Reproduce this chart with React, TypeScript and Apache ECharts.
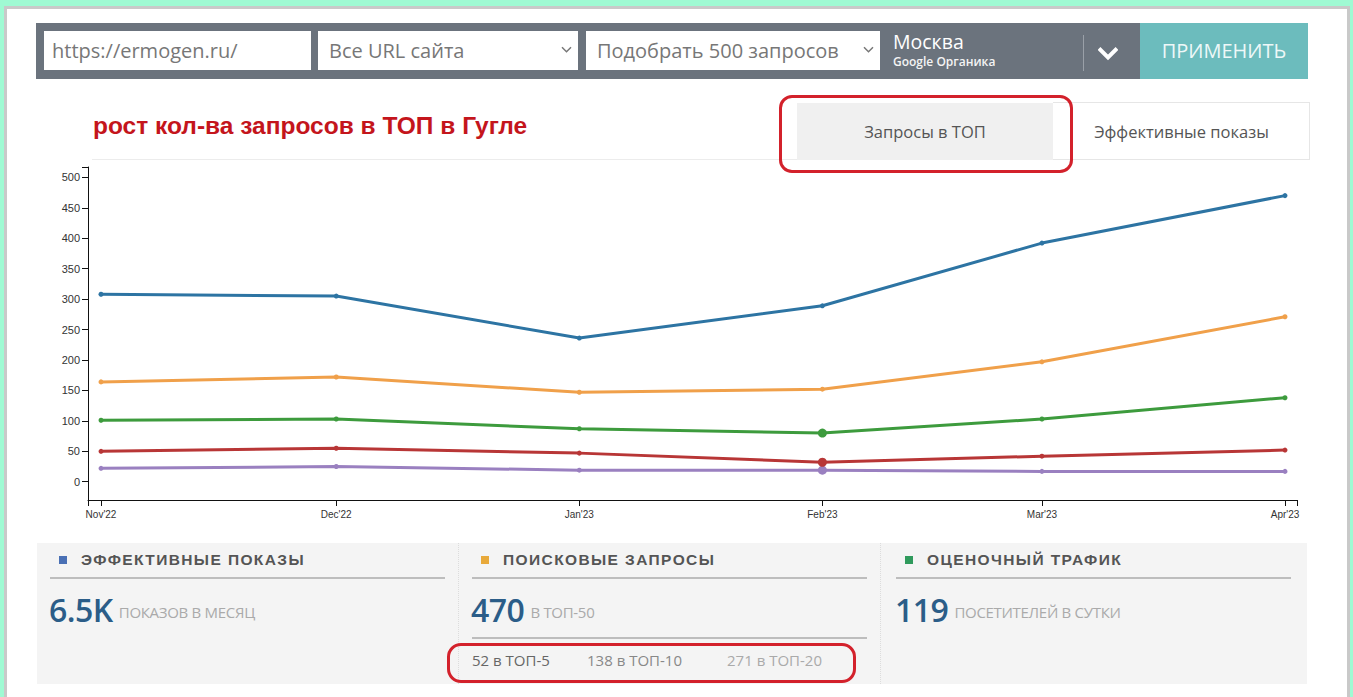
import React, { useEffect, useRef } from "react";
import * as echarts from "echarts";

// ---- data ----
const monthLabels = ["Nov'22", "Dec'22", "Jan'23", "Feb'23", "Mar'23", "Apr'23"];
const monthDates = [
  Date.UTC(2022, 10, 1),
  Date.UTC(2022, 11, 1),
  Date.UTC(2023, 0, 1),
  Date.UTC(2023, 1, 1),
  Date.UTC(2023, 2, 1),
  Date.UTC(2023, 3, 1),
];
const top50 = [308, 305, 236, 289, 392, 470];
const top20 = [164, 172, 147, 152, 197, 271];
const top10 = [101, 103, 87, 80, 103, 138];
const top5 = [50, 55, 47, 32, 42, 52];
const top3 = [22, 25, 19, 19, 17, 17];
const yTicks = [0, 50, 100, 150, 200, 250, 300, 350, 400, 450, 500];
const hoverIndex = 3;

const DAY = 86400000;
// x position in days since the first month
const monthDays = monthDates.map((d) => Math.round((d - monthDates[0]) / DAY));
const X_MIN = -1.66;
const X_MAX = monthDays[monthDays.length - 1] + 1.53;
const Y_MIN = -30;
const Y_MAX = 517;

const seriesDefs = [
  { name: "ТОП-50", data: top50, color: "#2d74a3", big: false },
  { name: "ТОП-20", data: top20, color: "#f0a04a", big: false },
  { name: "ТОП-10", data: top10, color: "#3d9b3d", big: true },
  { name: "ТОП-5", data: top5, color: "#b83636", big: true },
  { name: "ТОП-3", data: top3, color: "#9a80c0", big: true },
];

const Chart: React.FC = () => {
  const ref = useRef<HTMLDivElement>(null);
  useEffect(() => {
    if (!ref.current) return;
    const chart = echarts.init(ref.current, undefined, { renderer: "svg" });
    const series: any[] = seriesDefs.map((s, si) => ({
      type: "line",
      name: s.name,
      z: 10 - si,
      data: s.data.map((v, i) => ({
        value: [monthDays[i], v],
        symbolSize: s.big && i === hoverIndex ? 9 : 5,
      })),
      symbol: "circle",
      lineStyle: { color: s.color, width: 3 },
      itemStyle: { color: s.color },
      silent: true,
    }));
    series[2].markLine = {
      silent: true,
      symbol: "none",
      label: { show: false },
      lineStyle: { color: "#c8c8c8", width: 1, type: "solid" },
      data: [
        [
          { coord: [monthDays[hoverIndex], 104] },
          { coord: [monthDays[hoverIndex], -45] },
        ],
      ],
    };
    chart.setOption({
      animation: false,
      grid: { left: 88, top: 17, width: 1209, height: 333, containLabel: false },
      xAxis: {
        type: "value",
        min: X_MIN,
        max: X_MAX,
        axisLine: { show: true, onZero: false, lineStyle: { color: "#111", width: 1 } },
        axisTick: {
          show: true,
          length: 6,
          lineStyle: { color: "#111" },
          customValues: [X_MIN, ...monthDays, X_MAX],
        },
        axisLabel: {
          customValues: monthDays,
          fontSize: 10,
          fontFamily: "Arial, 'Liberation Sans', sans-serif",
          color: "#333",
          margin: 9,
          formatter: (v: number) => {
            const idx = monthDays.indexOf(Math.round(v));
            return idx >= 0 ? monthLabels[idx] : "";
          },
        },
        splitLine: { show: false },
      },
      yAxis: {
        type: "value",
        min: Y_MIN,
        max: Y_MAX,
        axisLine: { show: true, onZero: false, lineStyle: { color: "#111", width: 1 } },
        axisTick: {
          show: true,
          length: 6,
          lineStyle: { color: "#111" },
          customValues: [...yTicks, Y_MAX],
        },
        axisLabel: {
          customValues: yTicks,
          fontSize: 11,
          fontFamily: "Arial, 'Liberation Sans', sans-serif",
          color: "#333",
          margin: 8,
        },
        splitLine: { show: false },
      },
      series,
    });
    return () => chart.dispose();
  }, []);
  return (
    <div
      ref={ref}
      style={{ position: "absolute", left: 0, top: 150, width: 1353, height: 380 }}
    />
  );
};

const abs = (l: number, t: number, w?: number, h?: number): React.CSSProperties => ({
  position: "absolute",
  left: l,
  top: t,
  width: w,
  height: h,
  boxSizing: "border-box",
});

const Chevron: React.FC<{ x: number; y: number; color: string; w?: number; sw?: number }> = ({
  x,
  y,
  color,
  w = 9,
  sw = 1.5,
}) => (
  <svg style={abs(x, y, w + 2, w)} width={w + 2} height={w} viewBox={`0 0 ${w + 2} ${w}`}>
    <polyline
      points={`1,${w * 0.25} ${(w + 2) / 2},${w * 0.75} ${w + 1},${w * 0.25}`}
      fill="none"
      stroke={color}
      strokeWidth={sw}
    />
  </svg>
);

const UI = "'Open Sans', 'Noto Sans', sans-serif";
const ARIAL = "Arial, 'Liberation Sans', sans-serif";

const Panel: React.FC<{
  x: number;
  sq: string;
  title: string;
  big: string;
  small: string;
  lineW: number;
}> = ({ x, sq, title, big, small, lineW }) => (
  <>
    <div style={{ ...abs(x + 9, 556, 8, 8), background: sq }} />
    <div
      style={{
        ...abs(x + 31, 549, 400, 22),
        font: `bold 15.5px ${ARIAL}`,
        letterSpacing: 1.4,
        color: "#555",
        lineHeight: "22px",
        whiteSpace: "nowrap",
      }}
    >
      {title}
    </div>
    <div style={{ ...abs(x, 577, lineW, 2), background: "#bdbdbd" }} />
    <div style={{ ...abs(x - 1, 588, 420, 42), whiteSpace: "nowrap", lineHeight: "42px" }}>
      <span style={{ font: `600 32px ${UI}`, color: "#2b5d88", letterSpacing: -0.5 }}>{big}</span>
      <span
        style={{
          font: `15px ${UI}`,
          color: "#aaa",
          marginLeft: 6,
          verticalAlign: "4px",
          letterSpacing: -0.3,
        }}
      >
        {small}
      </span>
    </div>
  </>
);

export default function App() {
  return (
    <div
      style={{
        position: "fixed",
        left: 0,
        top: 0,
        width: 1353,
        height: 697,
        background: "#9ffad3",
        overflow: "hidden",
        fontFamily: UI,
      }}
    >
      {/* inner white panel */}
      <div
        style={{
          ...abs(4, 6, 1346, 720),
          background: "#fff",
          border: "3px solid #c9c9c9",
        }}
      />

      {/* top toolbar */}
      <div style={{ ...abs(36, 23, 1104, 56), background: "#6b737d" }} />
      <div style={{ ...abs(1140, 23, 168, 56), background: "#6cbcbd" }} />
      <div
        style={{
          ...abs(1140, 23, 168, 56),
          color: "#eef8f8",
          font: `20px ${UI}`,
          lineHeight: "56px",
          textAlign: "center",
        }}
      >
        ПРИМЕНИТЬ
      </div>

      <div style={{ ...abs(44, 31, 267, 39), background: "#fff" }} />
      <div style={{ ...abs(52, 31, 260, 39), font: `20px ${UI}`, color: "#777", lineHeight: "39px" }}>
        https://ermogen.ru/
      </div>

      <div style={{ ...abs(318, 31, 260, 39), background: "#fff" }} />
      <div style={{ ...abs(329, 31, 230, 39), font: `20px ${UI}`, color: "#777", lineHeight: "39px" }}>
        Все URL сайта
      </div>
      <Chevron x={561} y={45} color="#777" />

      <div style={{ ...abs(586, 31, 294, 39), background: "#fff" }} />
      <div
        style={{
          ...abs(597, 31, 270, 39),
          font: `20px ${UI}`,
          color: "#777",
          lineHeight: "39px",
          whiteSpace: "nowrap",
        }}
      >
        Подобрать 500 запросов
      </div>
      <Chevron x={863} y={45} color="#777" />

      <div style={{ ...abs(893, 29, 180, 26), font: `19.5px ${UI}`, color: "#fff", lineHeight: "26px" }}>
        Москва
      </div>
      <div
        style={{ ...abs(893, 54, 180, 16), font: `600 12px ${UI}`, color: "#f4f4f4", lineHeight: "16px" }}
      >
        Google Органика
      </div>
      <div style={{ ...abs(1083, 35, 1, 36), background: "#9aa0a8" }} />
      <Chevron x={1098} y={44} color="#fff" w={18} sw={4} />

      {/* title */}
      <div
        style={{
          ...abs(93, 111, 700, 30),
          font: `bold 24.5px ${ARIAL}`,
          color: "#c4151c",
          lineHeight: "30px",
          whiteSpace: "nowrap",
        }}
      >
        рост кол-ва запросов в ТОП в Гугле
      </div>
      <div style={{ ...abs(92, 159, 705, 1), background: "#ececec" }} />

      {/* tabs */}
      <div style={{ ...abs(797, 103, 256, 57), background: "#f0f0f0" }} />
      <div
        style={{
          ...abs(797, 103, 256, 57),
          font: `16.5px ${UI}`,
          color: "#555",
          lineHeight: "57px",
          textAlign: "center",
        }}
      >
        Запросы в ТОП
      </div>
      <div style={{ ...abs(1053, 102, 257, 58), border: "1px solid #e6e6e6", borderLeft: "none" }} />
      <div
        style={{
          ...abs(1053, 103, 257, 57),
          font: `16.5px ${UI}`,
          color: "#555",
          lineHeight: "57px",
          textAlign: "center",
        }}
      >
        Эффективные показы
      </div>
      <div
        style={{
          ...abs(779, 95, 294, 78),
          border: "3px solid #d3212b",
          borderRadius: 13,
        }}
      />

      {/* chart */}
      <Chart />

      {/* bottom panels */}
      <div style={{ ...abs(37, 543, 1270, 141), background: "#f4f4f4" }} />
      <div style={{ ...abs(458, 543, 1, 141), borderLeft: "1px dotted #dcdcdc" }} />
      <div style={{ ...abs(880, 543, 1, 141), borderLeft: "1px dotted #dcdcdc" }} />

      <Panel x={50} sq="#4a70b5" title="ЭФФЕКТИВНЫЕ ПОКАЗЫ" big="6.5K" small="ПОКАЗОВ В МЕСЯЦ" lineW={395} />
      <Panel x={472} sq="#e8a93a" title="ПОИСКОВЫЕ ЗАПРОСЫ" big="470" small="В ТОП-50" lineW={395} />
      <Panel x={896} sq="#2f9a5c" title="ОЦЕНОЧНЫЙ ТРАФИК" big="119" small="ПОСЕТИТЕЛЕЙ В СУТКИ" lineW={395} />

      <div style={{ ...abs(472, 637, 395, 2), background: "#bdbdbd" }} />
      <div style={{ ...abs(472, 649, 120, 22), font: `15px ${UI}`, color: "#666", lineHeight: "22px" }}>
        52 в ТОП-5
      </div>
      <div style={{ ...abs(587, 649, 130, 22), font: `15px ${UI}`, color: "#888", lineHeight: "22px" }}>
        138 в ТОП-10
      </div>
      <div style={{ ...abs(727, 649, 130, 22), font: `15px ${UI}`, color: "#aaa", lineHeight: "22px" }}>
        271 в ТОП-20
      </div>
      <div
        style={{
          ...abs(447, 643, 409, 40),
          border: "3px solid #d3212b",
          borderRadius: 14,
        }}
      />
    </div>
  );
}
